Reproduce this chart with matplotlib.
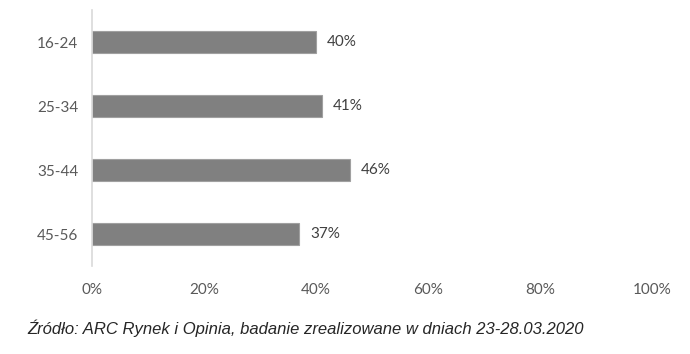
import matplotlib
matplotlib.use("Agg")
import matplotlib.pyplot as plt

categories = ["16-24", "25-34", "35-44", "45-56"]
values = [40, 41, 46, 37]
xticks = [0, 20, 40, 60, 80, 100]
xtick_labels = ["0%", "20%", "40%", "60%", "80%", "100%"]
source = "Źródło: ARC Rynek i Opinia, badanie zrealizowane w dniach 23-28.03.2020"

fig = plt.figure(figsize=(6.9, 3.54), dpi=100)
ax = fig.add_axes([92/690, 1-266/354, (652-92)/690, (266-10)/354])

pos = list(range(len(categories)))
ax.barh(pos, values, height=0.35, color="#808080", edgecolor="#a0a0a0", linewidth=0.8)
for p, v in zip(pos, values):
    ax.annotate(f"{v}%", (v, p), xytext=(8, 0), textcoords="offset points",
                va="center", ha="left", fontsize=11, color="#404040", family="Lato")

ax.set_ylim(3.5, -0.5)
ax.set_xlim(0, 100)
ax.set_yticks(pos)
ax.set_yticklabels(categories, fontsize=11, color="#595959", family="Lato")
ax.set_xticks(xticks)
ax.set_xticklabels(xtick_labels, fontsize=11, color="#595959", family="Lato")
ax.tick_params(axis="both", length=0)
ax.tick_params(axis="y", pad=10)
ax.tick_params(axis="x", pad=12)
for s in ["top", "right", "bottom"]:
    ax.spines[s].set_visible(False)
ax.spines["left"].set_color("#d9d9d9")
ax.spines["left"].set_linewidth(1.2)

fig.text(27/690, 1-328/354, source, fontsize=12, style="italic", family="Liberation Sans",
         color="#262626", ha="left", va="center")

fig.savefig("out.png", dpi=100)
